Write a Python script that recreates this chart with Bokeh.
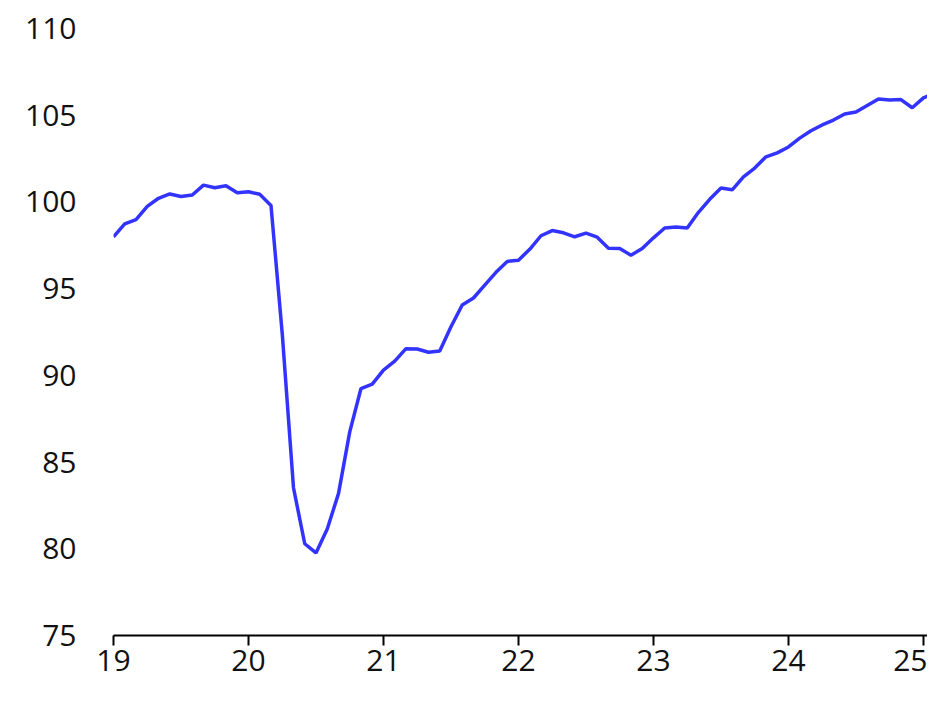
from bokeh.plotting import figure
from bokeh.models import Range1d, FixedTicker, ColumnDataSource
from bokeh.embed import file_html
from bokeh.resources import INLINE

# Monthly index values, Jan 2019 .. Mar 2025
values_2019 = [97.99, 98.73, 98.98, 99.74, 100.21, 100.46, 100.31, 100.40, 100.97, 100.82, 100.93, 100.53]
values_2020 = [100.59, 100.44, 99.80, 92.40, 83.52, 80.29, 79.76, 81.14, 83.18, 86.74, 89.24, 89.49]
values_2021 = [90.30, 90.82, 91.54, 91.52, 91.33, 91.41, 92.80, 94.06, 94.46, 95.20, 95.94, 96.57]
values_2022 = [96.64, 97.27, 98.05, 98.35, 98.22, 97.99, 98.20, 97.97, 97.33, 97.31, 96.93, 97.31]
values_2023 = [97.93, 98.50, 98.55, 98.50, 99.40, 100.15, 100.80, 100.70, 101.45, 101.95, 102.60, 102.83]
values_2024 = [103.17, 103.68, 104.10, 104.44, 104.72, 105.07, 105.18, 105.56, 105.94, 105.88, 105.90, 105.43]
values_2025 = [106.00, 106.28, 106.50]

start_year = 19  # two-digit year of the first month
x_ticks = [19, 20, 21, 22, 23, 24, 25]
x_tick_labels = ["19", "20", "21", "22", "23", "24", "25"]
y_ticks = [75, 80, 85, 90, 95, 100, 105, 110]

values = values_2019 + values_2020 + values_2021 + values_2022 + values_2023 + values_2024 + values_2025
x = [start_year + i / 12 for i in range(len(values))]
src = ColumnDataSource(dict(x=x, y=values))

FONT = "Open Sans"

p = figure(width=927, height=691, output_backend="svg", toolbar_location=None,
           x_range=Range1d(19, 25.03), y_range=Range1d(75, 110),
           min_border_left=113, min_border_right=0, min_border_top=28, min_border_bottom=56)
p.line("x", "y", source=src, line_color="#3333ff", line_width=3.5)

p.outline_line_color = None
p.xgrid.visible = False
p.ygrid.visible = False
p.background_fill_color = "white"
p.border_fill_color = "white"

xa = p.xaxis[0]
xa.ticker = FixedTicker(ticks=x_ticks)
xa.major_label_overrides = {t: l for t, l in zip(x_ticks, x_tick_labels)}
xa.axis_line_color = "black"
xa.axis_line_width = 2
xa.major_tick_line_color = "black"
xa.major_tick_line_width = 2
xa.major_tick_in = 0
xa.major_tick_out = 10
xa.minor_tick_line_color = None
xa.major_label_standoff = 4
xa.major_label_text_font = FONT
xa.major_label_text_font_size = "30px"
xa.major_label_text_color = "#111111"

ya = p.yaxis[0]
ya.ticker = FixedTicker(ticks=y_ticks)
ya.axis_line_color = None
ya.major_tick_line_color = None
ya.minor_tick_line_color = None
ya.major_tick_in = 0
ya.major_tick_out = 0
ya.major_label_standoff = 37
ya.major_label_text_font = FONT
ya.major_label_text_font_size = "30px"
ya.major_label_text_color = "#111111"

open("out.html", "w").write(file_html(p, INLINE))
